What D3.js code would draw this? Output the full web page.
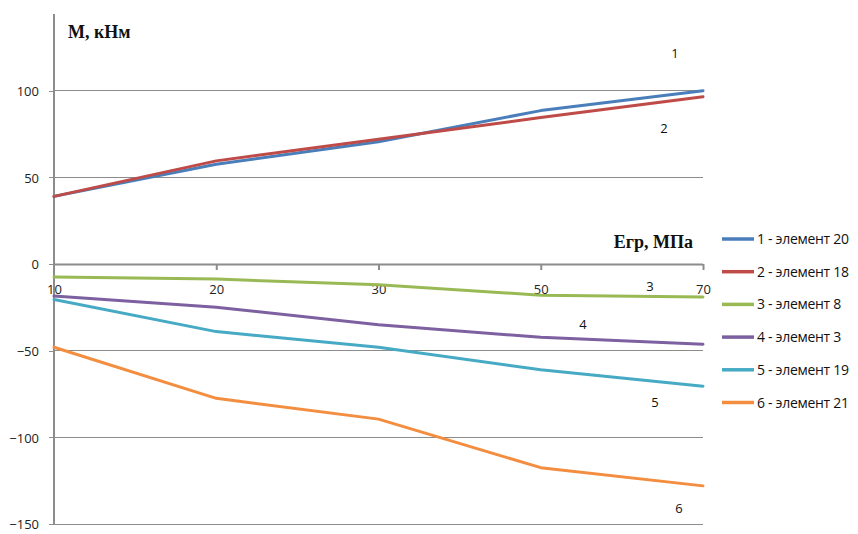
<!DOCTYPE html>
<html>
<head>
<meta charset="utf-8">
<script src="https://cdn.jsdelivr.net/npm/d3@7"></script>
<style>
  html, body { margin: 0; padding: 0; background: #fff; }
  svg { display: block; font-family: "Open Sans", "Liberation Sans", sans-serif; }
  .title { font-family: "Liberation Serif", "DejaVu Serif", serif; font-weight: bold; }
</style>
</head>
<body>
<svg id="chart" width="858" height="534"></svg>
<script>
// Modulus of subgrade (categories along x)
const categories = ["10", "20", "30", "50", "70"];

// Bending moment M, kN·m, per element
const seriesNames = ["1 - элемент 20", "2 - элемент 18", "3 - элемент 8", "4 - элемент 3", "5 - элемент 19", "6 - элемент 21"];
const curveLabels = ["1", "2", "3", "4", "5", "6"];
const s1 = [39, 57.5, 70.5, 88.5, 100];
const s2 = [39, 59.5, 72, 84.5, 96.5];
const s3 = [-7.5, -8.7, -12, -18, -19];
const s4 = [-18.5, -25, -35, -42.3, -46.3];
const s5 = [-20.5, -39, -48, -61, -70.5];
const s6 = [-48, -77.5, -89.5, -117.5, -128];
const yTicks = [-150, -100, -50, 0, 50, 100];
const colors = ["#4A7EBB", "#BE4B48", "#98B954", "#7D60A0", "#46AAC5", "#F38D3F"];

const allSeries = [s1, s2, s3, s4, s5, s6];

const svg = d3.select("#chart");
const left = 54, right = 703, plotTop = 14;

const x = d3.scalePoint().domain(categories).range([left, right]);
const y = d3.scaleLinear().domain([-150, 150]).range([524, 4]);

const gridColor = "#8c8c8c";

// horizontal gridlines
svg.append("g").selectAll("line").data(yTicks.filter(d => d !== 0)).join("line")
  .attr("x1", left).attr("x2", right)
  .attr("y1", d => y(d)).attr("y2", d => y(d))
  .attr("stroke", gridColor).attr("stroke-width", 1).attr("shape-rendering", "crispEdges");

// y axis
const yAxis = svg.append("g").attr("transform", `translate(${left},0)`)
  .call(d3.axisLeft(y).tickValues(yTicks).tickSize(5).tickPadding(10).tickFormat(d3.format("d")));
yAxis.select(".domain").remove();
yAxis.selectAll(".tick line").attr("stroke", gridColor).attr("shape-rendering", "crispEdges");
yAxis.selectAll(".tick text").attr("fill", "#222").attr("font-size", 13).attr("dy", "0.36em")
  .style("font-family", "'Open Sans', sans-serif");
svg.append("line").attr("x1", left).attr("x2", left).attr("y1", plotTop).attr("y2", y(-150))
  .attr("stroke", gridColor).attr("stroke-width", 2).attr("shape-rendering", "crispEdges");

// x axis at zero
const xAxis = svg.append("g").attr("transform", `translate(0,${y(0)})`)
  .call(d3.axisBottom(x).tickSize(6).tickPadding(15));
xAxis.select(".domain").attr("stroke", gridColor).attr("stroke-width", 2)
  .attr("d", `M${left},0.5H${right}`);
xAxis.selectAll(".tick line").attr("stroke", gridColor).attr("stroke-width", 2)
  .attr("display", (d, i) => i === 0 ? "none" : null);
xAxis.selectAll(".tick text").attr("fill", "#222").attr("font-size", 13)
  .style("font-family", "'Open Sans', sans-serif");

// series lines
const line = d3.line()
  .x((d, i) => x(categories[i]))
  .y(d => y(d))
  .curve(d3.curveLinear);

svg.append("g").selectAll("path").data(allSeries).join("path")
  .attr("d", d => line(d))
  .attr("fill", "none")
  .attr("stroke", (d, i) => colors[i])
  .attr("stroke-width", 3)
  .attr("stroke-linejoin", "round")
  .attr("stroke-linecap", "round");

// curve numbers
const labelPos = [[675, 53], [664, 128], [650, 286], [583, 324], [655, 402], [679, 508]];
svg.append("g").selectAll("text").data(curveLabels).join("text")
  .attr("x", (d, i) => labelPos[i][0])
  .attr("y", (d, i) => labelPos[i][1])
  .attr("text-anchor", "middle")
  .attr("dy", "0.35em")
  .attr("font-size", 13)
  .attr("fill", "#111")
  .text(d => d);

// axis titles
svg.append("text").attr("class", "title").attr("x", 68).attr("y", 38)
  .attr("font-size", 18).attr("fill", "#111")
  .text("М, кНм");
svg.append("text").attr("class", "title").attr("x", 693).attr("y", 248).attr("text-anchor", "end")
  .attr("font-size", 18).attr("fill", "#111")
  .text("Eгр, МПа");

// legend
const legend = svg.append("g").attr("transform", "translate(722,239)");
const rows = legend.selectAll("g").data(seriesNames).join("g")
  .attr("transform", (d, i) => `translate(0,${i * 32.7})`);
rows.append("line").attr("x1", 0).attr("x2", 32).attr("y1", 0).attr("y2", 0)
  .attr("stroke", (d, i) => colors[i]).attr("stroke-width", 3.5);
rows.append("text").attr("x", 35).attr("dy", "0.36em")
  .attr("font-size", 14).attr("fill", "#111")
  .attr("letter-spacing", "-0.3")
  .text(d => d);
</script>
</body>
</html>
